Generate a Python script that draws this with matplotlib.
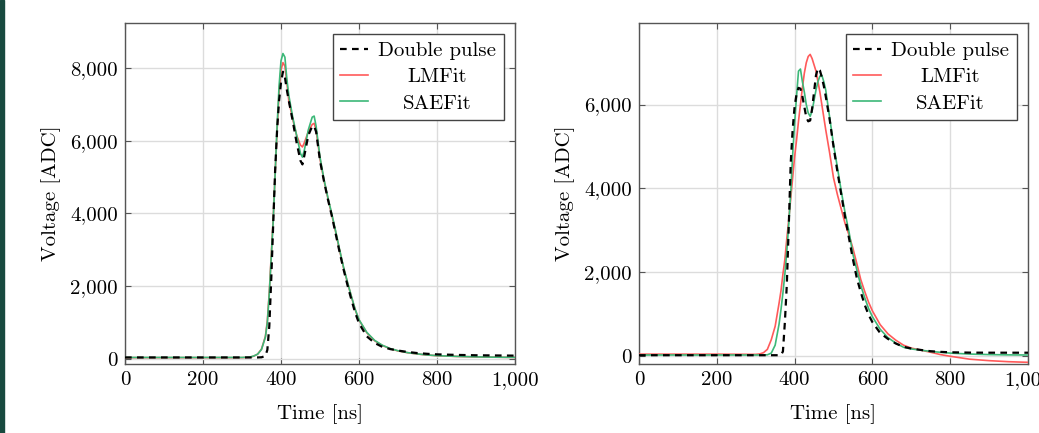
import matplotlib
matplotlib.use("Agg")
import matplotlib.pyplot as plt
from matplotlib.ticker import FuncFormatter
from matplotlib.patches import Rectangle

# ---------------- data ----------------
t_left = [0, 100, 200, 300, 320, 330, 340, 350, 360, 365, 370, 375, 380, 385, 390, 395,
          400, 405, 410, 415, 420, 430, 440, 450, 455, 460, 470, 480, 485, 490, 500,
          510, 520, 530, 540, 550, 560, 570, 580, 590, 600, 620, 640, 660, 680, 700,
          725, 750, 775, 800, 850, 900, 950, 1000]

left_double = [40, 40, 40, 40, 40, 40, 40, 45, 80, 250, 900, 2200, 3700, 5200, 6300, 7100,
               7600, 7900, 7750, 7400, 7100, 6550, 5950, 5450, 5350, 5600, 6150, 6400, 6400, 6250, 5450,
               4900, 4400, 3950, 3450, 2950, 2480, 2050, 1650, 1280, 980, 620, 440, 330, 270, 230,
               190, 160, 140, 125, 110, 100, 95, 90]

left_lmfit = [35, 35, 35, 35, 45, 75, 130, 270, 620, 1050, 1850, 2850, 3850, 5100, 6300, 7300,
              7950, 8150, 8050, 7600, 7100, 6600, 6150, 5880, 5830, 5950, 6250, 6450, 6480, 6300, 5500,
              4920, 4430, 3970, 3500, 3000, 2520, 2120, 1730, 1360, 1070, 720, 500, 370, 280, 220,
              170, 135, 105, 88, 68, 55, 47, 40]

left_saefit = [40, 40, 40, 40, 50, 80, 130, 260, 600, 1000, 1800, 2800, 3800, 5100, 6400, 7500,
               8200, 8400, 8300, 7700, 7250, 6650, 6150, 5650, 5550, 5750, 6300, 6650, 6680, 6400, 5550,
               4950, 4450, 4000, 3520, 3020, 2540, 2130, 1740, 1370, 1080, 730, 510, 375, 285, 225,
               172, 138, 108, 90, 70, 56, 48, 42]

t_right = [0, 100, 200, 300, 310, 320, 330, 340, 350, 360, 365, 370, 375, 380, 385, 390,
           395, 400, 405, 410, 415, 420, 425, 430, 435, 440, 445, 450, 455, 460, 465,
           470, 475, 480, 490, 500, 510, 520, 530, 540, 550, 560, 570, 580, 590, 600,
           620, 640, 660, 680, 700, 725, 750, 775, 800, 850, 900, 950, 1000]

right_double = [10, 10, 10, 10, 10, 10, 10, 10, 10, 10, 15, 100, 800, 1700, 3100, 4600,
                5400, 5950, 6250, 6400, 6380, 6200, 5950, 5700, 5600, 5620, 5900, 6300, 6700, 6870, 6820,
                6650, 6450, 6200, 5650, 5000, 4400, 3850, 3300, 2800, 2300, 1850, 1520, 1220, 980, 800,
                540, 400, 290, 210, 170, 135, 105, 90, 80, 72, 70, 70, 70]

right_lmfit = [35, 35, 35, 30, 40, 70, 150, 380, 700, 1250, 1550, 1950, 2300, 2800, 3250, 3750,
               4250, 4750, 5150, 5600, 6000, 6400, 6750, 7000, 7150, 7200, 7100, 6950, 6800, 6550, 6300,
               6000, 5700, 5400, 4850, 4250, 3850, 3500, 3150, 2880, 2560, 2200, 1820, 1540, 1280, 1070,
               740, 520, 370, 250, 180, 130, 80, 25, -15, -85, -120, -145, -160]

right_saefit = [15, 15, 15, 15, 15, 15, 20, 60, 250, 750, 1100, 1500, 1950, 2500, 3150, 3900,
                4800, 5550, 6200, 6800, 6850, 6550, 6300, 6000, 5800, 5720, 5850, 6100, 6350, 6550, 6680,
                6700, 6550, 6350, 5700, 5050, 4500, 3930, 3400, 2950, 2420, 2050, 1680, 1390, 1130, 930,
                630, 430, 300, 200, 160, 130, 100, 80, 60, 38, 25, 18, 15]

x_ticks = [0, 200, 400, 600, 800, 1000]
left_yticks = [0, 2000, 4000, 6000, 8000]
right_yticks = [0, 2000, 4000, 6000]
labels = ["Double pulse", "LMFit", "SAEFit"]
x_label = "Time [ns]"
y_label = "Voltage [ADC]"

# ---------------- style ----------------
plt.rcParams['font.family'] = ['cmr10', 'DejaVu Serif']
plt.rcParams['axes.formatter.use_mathtext'] = True
FS = 15
RED = '#ff5a5a'
GREEN = '#3cb878'
SPINE = '#555555'
GRID = '#dcdcdc'

W, H = 1039, 433
fig = plt.figure(figsize=(W / 100, H / 100), dpi=100)
fig.patches.append(Rectangle((0, 0), 4 / W, 1, transform=fig.transFigure,
                             color='#184a3f', zorder=0))

fmt = FuncFormatter(lambda v, p: '{:,.0f}'.format(v))


def make_axes(px_left, px_right, px_top, px_bottom):
    return fig.add_axes([px_left / W, 1 - px_bottom / H,
                         (px_right - px_left) / W, (px_bottom - px_top) / H])


def style(ax, yticks, ylim):
    ax.set_xlim(0, 1000)
    ax.set_ylim(*ylim)
    ax.set_xticks(x_ticks)
    ax.set_yticks(yticks)
    ax.xaxis.set_major_formatter(fmt)
    ax.yaxis.set_major_formatter(fmt)
    ax.grid(True, color=GRID, lw=1.0)
    ax.set_axisbelow(True)
    for s in ax.spines.values():
        s.set_color(SPINE)
        s.set_linewidth(1.0)
    ax.tick_params(direction='in', length=4, width=0.8, color=SPINE,
                   top=True, right=True, labelsize=FS, pad=5)
    ax.set_xlabel(x_label, fontsize=FS, labelpad=11)
    ax.set_ylabel(y_label, fontsize=FS, labelpad=7)


def draw(ax, t, d, lm, sae):
    ax.plot(t, lm, color=RED, lw=1.2, label=labels[1], zorder=3)
    ax.plot(t, sae, color=GREEN, lw=1.2, label=labels[2], zorder=4)
    ax.plot(t, d, color='black', lw=1.6, ls=(0, (3, 2.4)), label=labels[0], zorder=5)
    h, l = ax.get_legend_handles_labels()
    order = [2, 0, 1]
    leg = ax.legend([h[i] for i in order], [l[i] for i in order], loc='upper right',
                    fontsize=FS, frameon=True, fancybox=False, framealpha=1,
                    edgecolor='#444444', borderaxespad=0.53, borderpad=0.36,
                    labelspacing=0.37, handlelength=1.35, handletextpad=0.48)
    leg.get_frame().set_linewidth(1.0)
    return leg


ax1 = make_axes(125, 515, 23, 364)
draw(ax1, t_left, left_double, left_lmfit, left_saefit)
style(ax1, left_yticks, (-140, 9240))

ax2 = make_axes(639, 1028, 23, 364)
draw(ax2, t_right, right_double, right_lmfit, right_saefit)
style(ax2, right_yticks, (-200, 7950))

# centre the legend labels within the text column (as pgfplots does)
fig.canvas.draw()
renderer = fig.canvas.get_renderer()
for ax in (ax1, ax2):
    texts = ax.get_legend().get_texts()
    widths = [t.get_window_extent(renderer).width for t in texts]
    wmax = max(widths)
    for t, w in zip(texts, widths):
        t.set_position(((wmax - w) / 2, 0))

fig.savefig('out.png', dpi=100)
